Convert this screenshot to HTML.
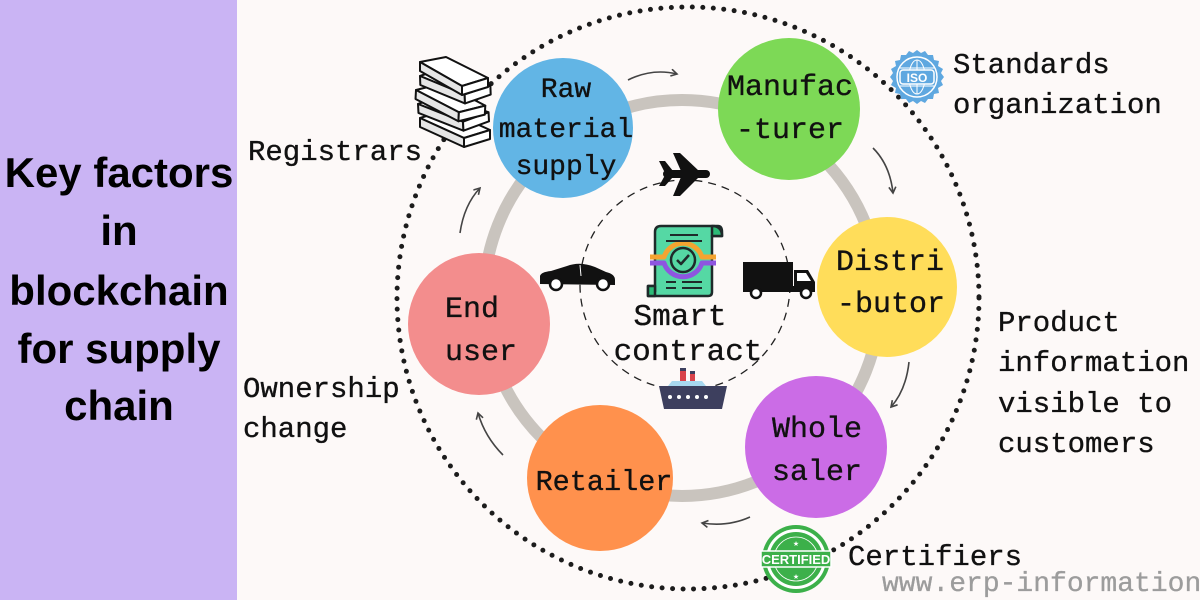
<!DOCTYPE html>
<html><head><meta charset="utf-8"><style>
html,body{margin:0;padding:0;background:#fdf9f8;}
svg{display:block;}
.m{font-family:"Liberation Mono",monospace;fill:#111;stroke:#111;stroke-width:0.35;}
.t{font-family:"Liberation Sans",sans-serif;font-weight:bold;fill:#000;}
</style></head><body>
<svg width="1200" height="600" viewBox="0 0 1200 600" xmlns="http://www.w3.org/2000/svg">
<defs>
<marker id="ah" markerWidth="10" markerHeight="10" refX="7" refY="4" orient="auto" markerUnits="userSpaceOnUse">
<path d="M1,0.5 L7,4 L1,7.5" fill="none" stroke="#444" stroke-width="1.6"/>
</marker>
</defs>
<rect x="0" y="0" width="1200" height="600" fill="#fdf9f8"/>
<rect x="0" y="0" width="237" height="600" fill="#cab4f4"/>
<g class="t" font-size="42" text-anchor="middle">
<text x="119" y="187">Key factors</text>
<text x="119" y="245">in</text>
<text x="119" y="305">blockchain</text>
<text x="119" y="363">for supply</text>
<text x="119" y="420">chain</text>
</g>

<!-- outer dotted circle -->
<circle cx="688" cy="298" r="291" fill="none" stroke="#1c1c1c" stroke-width="5" stroke-linecap="round" stroke-dasharray="0 10.5"/>
<!-- gray ring -->
<circle cx="682" cy="298" r="198" fill="none" stroke="#c9c4be" stroke-width="12"/>
<!-- inner dashed -->
<circle cx="685" cy="285" r="105" fill="none" stroke="#222" stroke-width="1.3" stroke-dasharray="8 6"/>

<!-- arrows -->
<g fill="none" stroke="#444" stroke-width="1.6" marker-end="url(#ah)">
<path d="M628,80 Q652,68 677,74"/>
<path d="M873,148 Q890,165 893,193"/>
<path d="M909,362 Q906,390 891,407"/>
<path d="M750,517 Q728,527 702,523"/>
<path d="M503,455 Q485,437 478,413"/>
<path d="M460,233 Q464,205 480,188"/>
</g>

<!-- nodes -->
<circle cx="563" cy="128" r="70" fill="#62b5e5"/>
<circle cx="789" cy="109" r="71" fill="#7dd956"/>
<circle cx="887" cy="287" r="70" fill="#ffdd5a"/>
<circle cx="816" cy="447" r="71" fill="#cb6ce6"/>
<circle cx="600" cy="478" r="73" fill="#ff914d"/>
<circle cx="479" cy="324" r="71" fill="#f38d8d"/>

<g class="m" text-anchor="middle">
<text x="566" y="97" font-size="28">Raw</text>
<text x="566" y="137" font-size="28">material</text>
<text x="566" y="174" font-size="28">supply</text>
<text x="790" y="95" font-size="30">Manufac</text>
<text x="790" y="138" font-size="30">-turer</text>
<text x="890" y="270" font-size="30">Distri</text>
<text x="891" y="312" font-size="30">-butor</text>
<text x="817" y="437" font-size="30">Whole</text>
<text x="817" y="480" font-size="30">saler</text>
<text x="604" y="490" font-size="28.5">Retailer</text>
<text x="680" y="325" font-size="31">Smart</text>
<text x="688" y="360" font-size="31">contract</text>
</g>
<g class="m" font-size="30">
<text x="445" y="317">End</text>
<text x="445" y="360">user</text>
</g>

<!-- side labels -->
<g class="m" font-size="29">
<text x="248" y="160">Registrars</text>
<text x="953" y="73">Standards</text>
<text x="953" y="113">organization</text>
<text x="998" y="331">Product</text>
<text x="998" y="371">information</text>
<text x="998" y="412">visible to</text>
<text x="998" y="452">customers</text>
<text x="243" y="397">Ownership</text>
<text x="243" y="437">change</text>
<text x="848" y="565">Certifiers</text>
</g>
<text x="882" y="591" font-family="Liberation Mono, monospace" font-size="28" fill="#9c9c9c" stroke="#9c9c9c" stroke-width="0.3">www.erp-information</text>

<!-- books -->
<g stroke="#111" stroke-width="2" stroke-linejoin="round">
<g transform="translate(420,118)">
<polygon points="0,0 26,-8 70,12 44,20" fill="#fff"/>
<polygon points="0,0 44,20 44,29 0,9" fill="#e6e6e6"/>
<polygon points="44,20 70,12 70,21 44,29" fill="#fff"/>
</g>
<g transform="translate(418,104) rotate(-3)">
<polygon points="0,0 26,-8 70,12 44,20" fill="#fff"/>
<polygon points="0,0 44,20 44,29 0,9" fill="#e6e6e6"/>
<polygon points="44,20 70,12 70,21 44,29" fill="#fff"/>
</g>
<g transform="translate(416,90) rotate(3)">
<polygon points="0,0 26,-8 70,12 44,20" fill="#fff"/>
<polygon points="0,0 44,20 44,29 0,9" fill="#e6e6e6"/>
<polygon points="44,20 70,12 70,21 44,29" fill="#fff"/>
</g>
<g transform="translate(420,76) rotate(-2)">
<polygon points="0,0 26,-8 70,12 44,20" fill="#fff"/>
<polygon points="0,0 44,20 44,29 0,9" fill="#e6e6e6"/>
<polygon points="44,20 70,12 70,21 44,29" fill="#fff"/>
</g>
<g transform="translate(420,62)">
<polygon points="0,0 26,-5 68,16 42,24" fill="#fff"/>
<polygon points="0,0 42,24 42,33 0,9" fill="#e6e6e6"/>
<polygon points="42,24 68,16 68,25 42,33" fill="#fff"/>
</g>
</g>

<!-- ISO badge -->
<g transform="translate(917,77)">
<polygon fill="#5fa8e0" points="0,-27 4,-24 8,-26 11,-22 16,-22 17,-17 22,-16 21,-11 26,-8 24,-4 27,0 24,4 26,8 21,11 22,16 17,17 16,22 11,22 8,26 4,24 0,27 -4,24 -8,26 -11,22 -16,22 -17,17 -22,16 -21,11 -26,8 -24,4 -27,0 -24,-4 -26,-8 -21,-11 -22,-16 -17,-17 -16,-22 -11,-22 -8,-26 -4,-24"/>
<circle r="20" fill="#5fa8e0" stroke="#fff" stroke-width="1.5"/>
<g stroke="#fff" stroke-width="1" fill="none">
<ellipse rx="8" ry="17"/>
<line x1="-17" y1="-9" x2="17" y2="-9"/>
<line x1="-17" y1="9" x2="17" y2="9"/>
<line x1="0" y1="-17" x2="0" y2="17"/>
</g>
<rect x="-17" y="-7" width="34" height="14" rx="3" fill="#5fa8e0" stroke="#fff" stroke-width="1.5"/>
<text x="0" y="5" text-anchor="middle" font-family="Liberation Sans, sans-serif" font-weight="bold" font-size="12" fill="#fff">ISO</text>
</g>

<!-- Certified badge -->
<g transform="translate(796,559)">
<circle r="34" fill="#3cb04a"/>
<circle r="30" fill="#fff"/>
<circle r="27" fill="#3cb04a"/>
<circle r="22" fill="none" stroke="#fff" stroke-width="0.8"/>
<rect x="-35" y="-8" width="70" height="16" fill="#3cb04a" stroke="#fff" stroke-width="1.5"/>
<text x="0" y="5" text-anchor="middle" font-family="Liberation Sans, sans-serif" font-weight="bold" font-size="13" fill="#fff">CERTIFIED</text>
<text x="0" y="-13" text-anchor="middle" font-size="7" fill="#fff">★</text>
<text x="0" y="20" text-anchor="middle" font-size="7" fill="#fff">★</text>
</g>

<!-- plane -->
<g fill="#111">
<rect x="663" y="170" width="47" height="8" rx="4"/>
<polygon points="681,171 673,153 680,153 699,171"/>
<polygon points="681,177 673,196 680,196 699,177"/>
<polygon points="664,171 659,161 665,161 673,171"/>
<polygon points="664,177 659,186 665,186 673,177"/>
</g>

<!-- car -->
<g>
<path d="M540,284 L540,276 Q541,272 551,271 L567,266 Q580,261 595,267 L606,272 Q615,274 615,280 L615,285 Z" fill="#111"/>
<line x1="580" y1="265" x2="581" y2="276" stroke="#fff" stroke-width="1"/>
<circle cx="556" cy="284" r="6" fill="#fff" stroke="#111" stroke-width="2.5"/>
<circle cx="603" cy="284" r="6" fill="#fff" stroke="#111" stroke-width="2.5"/>
</g>

<!-- truck -->
<g>
<rect x="743" y="262" width="50" height="25" fill="#111"/>
<path d="M794,270 L808,270 L815,282 L815,292 L794,292 Z" fill="#111"/>
<path d="M797,273 L806,273 L811,281 L797,281 Z" fill="#fff"/>
<rect x="743" y="286" width="72" height="6" fill="#111"/>
<circle cx="756" cy="293" r="5" fill="#fff" stroke="#111" stroke-width="2.5"/>
<circle cx="806" cy="293" r="5" fill="#fff" stroke="#111" stroke-width="2.5"/>
</g>

<!-- ship -->
<g>
<rect x="680" y="370" width="6" height="11" fill="#d9434b"/>
<rect x="690" y="373" width="5" height="8" fill="#d9434b"/>
<rect x="680" y="368" width="6" height="3" fill="#3d3f5e"/>
<rect x="690" y="371" width="5" height="3" fill="#3d3f5e"/>
<path d="M672,381 L702,381 L706,386 L668,386 Z" fill="#a8d8ef"/>
<path d="M659,386 L727,386 L722,409 L664,409 Z" fill="#3d3f5e"/>
<g fill="#fff">
<circle cx="670" cy="397" r="2"/><circle cx="679" cy="397" r="2"/><circle cx="688" cy="397" r="2"/><circle cx="697" cy="397" r="2"/><circle cx="706" cy="397" r="2"/>
</g>
</g>

<!-- contract doc -->
<g stroke="#1f2a2a" stroke-width="2.5" stroke-linejoin="round">
<path d="M655,292 L655,232 Q655,226 661,226 L718,226 Q722,226 722,232 L722,236 L712,236 L712,292 Q712,296 708,296 L648,296 L648,286 L655,286" fill="#55d8a4"/>
<path d="M648,286 L655,286 L655,296 L648,296 Z" fill="#2dbb77"/>
<path d="M712,226 Q722,226 722,236 L712,236 Z" fill="#2dbb77"/>
<path d="M650,257 L664,257 A20,20 0 0 1 702,257 L716,257" fill="none" stroke="#f4a430" stroke-width="5"/>
<path d="M650,263 L664,263 A20,20 0 0 0 702,263 L716,263" fill="none" stroke="#8e55e0" stroke-width="5"/>
<circle cx="683" cy="260" r="12" fill="#55d8a4"/>
<path d="M677,260 L681,264 L689,255" fill="none" stroke-width="2.5"/>
<line x1="670" y1="235" x2="698" y2="235" stroke-width="2"/>
<line x1="666" y1="241" x2="702" y2="241" stroke-width="2"/>
<line x1="666" y1="282" x2="676" y2="282" stroke-width="2"/>
<line x1="682" y1="282" x2="702" y2="282" stroke-width="2"/>
<line x1="666" y1="288" x2="676" y2="288" stroke-width="2"/>
<line x1="682" y1="288" x2="702" y2="288" stroke-width="2"/>
</g>
</svg>
</body></html>
